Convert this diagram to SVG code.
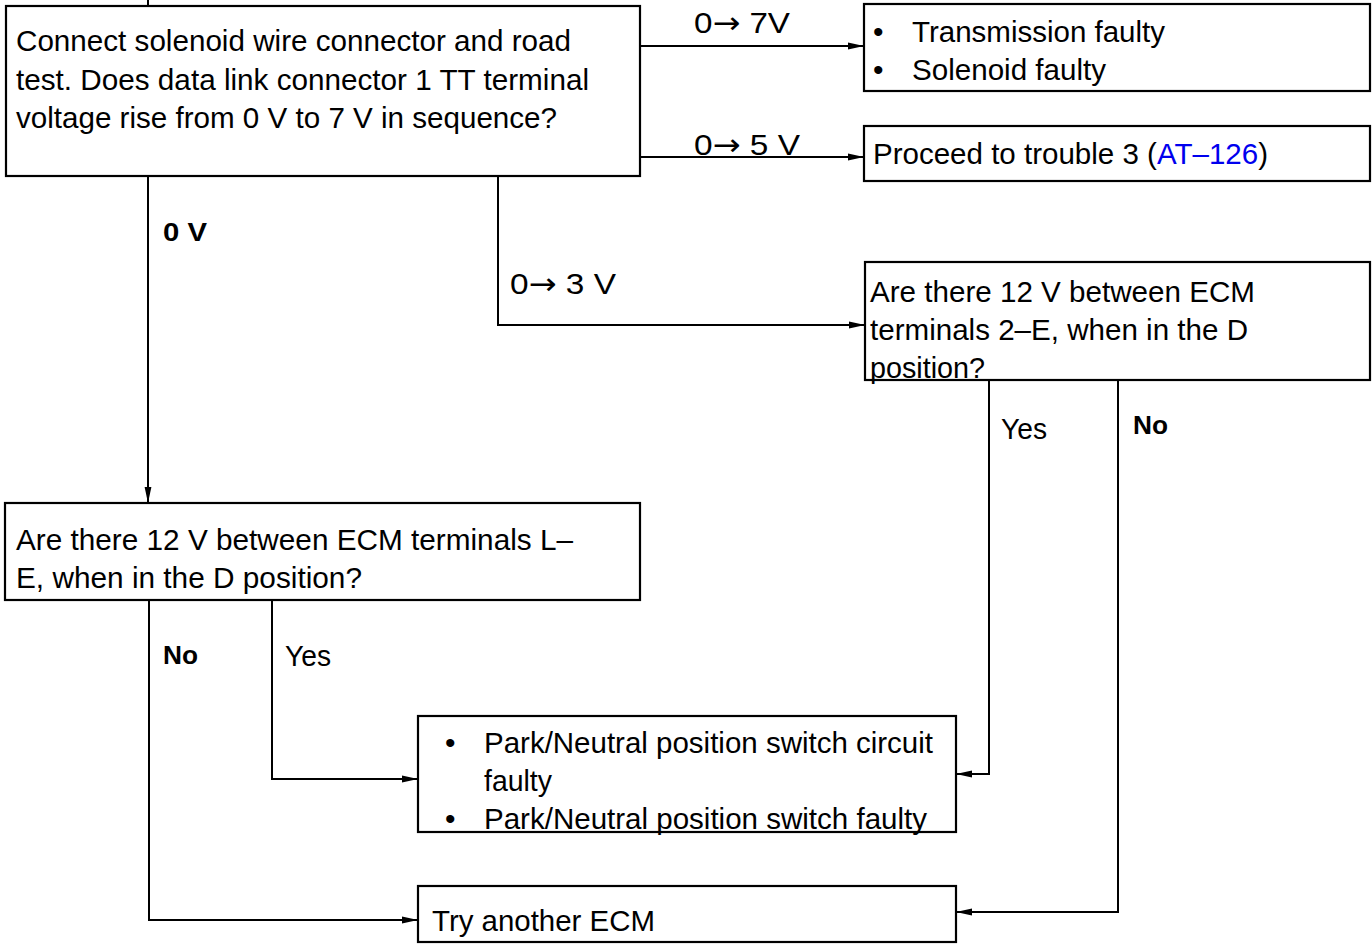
<svg xmlns="http://www.w3.org/2000/svg" width="1372" height="945" viewBox="0 0 1372 945">
<style>
.box{fill:#fff;stroke:#000;stroke-width:2.2}
.t{font-family:"Liberation Sans",Arial,sans-serif;font-size:30px;fill:#000}
.b{font-family:"Liberation Sans",Arial,sans-serif;font-size:25px;font-weight:bold;fill:#000}
.ar{font-family:"DejaVu Sans",sans-serif}
.c{fill:none;stroke:#000;stroke-width:2}
.link{fill:#0000ee}
</style>
<defs>
<marker id="ah" markerWidth="16" markerHeight="8" refX="16" refY="4" orient="auto" markerUnits="userSpaceOnUse">
<path d="M0,0.6 L16,4 L0,7.4 Z" fill="#000"/>
</marker>
</defs>
<rect width="1372" height="945" fill="#fff"/>
<g id="connectors">
<path class="c" d="M148,0 V7"/>
<path class="c" d="M640,46 H864" marker-end="url(#ah)"/>
<path class="c" d="M640,157 H864" marker-end="url(#ah)"/>
<path class="c" d="M498,176 V325 H865" marker-end="url(#ah)"/>
<path class="c" d="M148,176 V503" marker-end="url(#ah)"/>
<path class="c" d="M149,600 V920 H418" marker-end="url(#ah)"/>
<path class="c" d="M272,600 V779 H418" marker-end="url(#ah)"/>
<path class="c" d="M989,380 V774 H956" marker-end="url(#ah)"/>
<path class="c" d="M1118,380 V912 H956" marker-end="url(#ah)"/>
<text class="t" x="694" y="33" textLength="96" lengthAdjust="spacingAndGlyphs">0<tspan class="ar">→</tspan> 7V</text>
<text class="t" x="694" y="155" textLength="106" lengthAdjust="spacingAndGlyphs">0<tspan class="ar">→</tspan> 5 V</text>
<text class="t" x="510" y="294" textLength="106" lengthAdjust="spacingAndGlyphs">0<tspan class="ar">→</tspan> 3 V</text>
<text class="b" x="163" y="241" textLength="44" lengthAdjust="spacingAndGlyphs">0 V</text>
<text class="b" x="163" y="664" textLength="35" lengthAdjust="spacingAndGlyphs">No</text>
<text class="t" x="285" y="666" textLength="46" lengthAdjust="spacingAndGlyphs">Yes</text>
<text class="t" x="1001" y="439" textLength="46" lengthAdjust="spacingAndGlyphs">Yes</text>
<text class="b" x="1133" y="434" textLength="35" lengthAdjust="spacingAndGlyphs">No</text>
</g>
<g id="n1">
<rect class="box" x="6" y="6" width="634" height="170"/>
<text class="t" x="16" y="51" textLength="555" lengthAdjust="spacingAndGlyphs">Connect solenoid wire connector and road</text>
<text class="t" x="16" y="90" textLength="573" lengthAdjust="spacingAndGlyphs">test. Does data link connector 1 TT terminal</text>
<text class="t" x="16" y="128" textLength="541" lengthAdjust="spacingAndGlyphs">voltage rise from 0 V to 7 V in sequence?</text>
</g>
<g id="n2">
<rect class="box" x="864" y="4" width="506" height="87"/>
<text class="t" x="873" y="42">•</text>
<text class="t" x="912" y="42" textLength="253" lengthAdjust="spacingAndGlyphs">Transmission faulty</text>
<text class="t" x="873" y="80">•</text>
<text class="t" x="912" y="80" textLength="194" lengthAdjust="spacingAndGlyphs">Solenoid faulty</text>
</g>
<g id="n3">
<rect class="box" x="864" y="126" width="506" height="55"/>
<text class="t" x="873" y="164" textLength="395" lengthAdjust="spacingAndGlyphs">Proceed to trouble 3 (<tspan class="link">AT–126</tspan>)</text>
</g>
<g id="n4">
<rect class="box" x="865" y="262" width="505" height="118"/>
<text class="t" x="870" y="302" textLength="385" lengthAdjust="spacingAndGlyphs">Are there 12 V between ECM</text>
<text class="t" x="870" y="340" textLength="378" lengthAdjust="spacingAndGlyphs">terminals 2–E, when in the D</text>
<text class="t" x="870" y="378" textLength="115" lengthAdjust="spacingAndGlyphs">position?</text>
</g>
<g id="n5">
<rect class="box" x="5" y="503" width="635" height="97"/>
<text class="t" x="16" y="550" textLength="557" lengthAdjust="spacingAndGlyphs">Are there 12 V between ECM terminals L–</text>
<text class="t" x="16" y="588" textLength="346" lengthAdjust="spacingAndGlyphs">E, when in the D position?</text>
</g>
<g id="n6">
<rect class="box" x="418" y="716" width="538" height="116"/>
<text class="t" x="445" y="753">•</text>
<text class="t" x="484" y="753" textLength="449" lengthAdjust="spacingAndGlyphs">Park/Neutral position switch circuit</text>
<text class="t" x="484" y="791" textLength="68" lengthAdjust="spacingAndGlyphs">faulty</text>
<text class="t" x="445" y="829">•</text>
<text class="t" x="484" y="829" textLength="443" lengthAdjust="spacingAndGlyphs">Park/Neutral position switch faulty</text>
</g>
<g id="n7">
<rect class="box" x="418" y="886" width="538" height="56"/>
<text class="t" x="432" y="931" textLength="223" lengthAdjust="spacingAndGlyphs">Try another ECM</text>
</g>
</svg>
